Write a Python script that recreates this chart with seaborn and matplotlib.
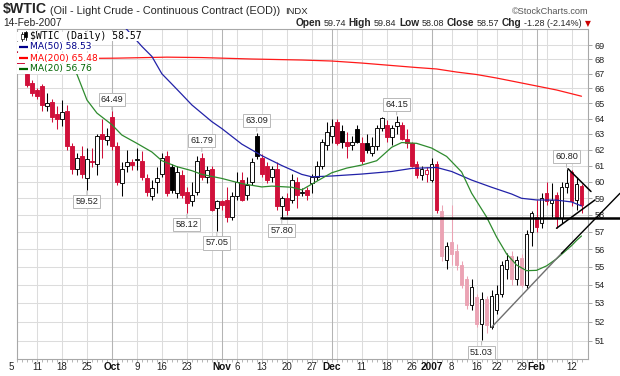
import numpy as np
import pandas as pd
import matplotlib
matplotlib.use("Agg")
import matplotlib.pyplot as plt
import matplotlib.transforms as mtransforms
from matplotlib.lines import Line2D
from matplotlib.patches import Rectangle
from matplotlib.ticker import FixedLocator, NullLocator, NullFormatter, FuncFormatter
import seaborn as sns

# ---------------- data ----------------
holidays = ["2006-12-25", "2007-01-01", "2007-01-15"]
dates = pd.bdate_range("2006-09-05", "2007-02-14")
dates = dates[~dates.isin(pd.to_datetime(holidays))]

opens = [68.2, 67.8, 67.0, 66.4, 65.9, 66.2, 64.85, 65.1, 64.3, 64.0,
         64.5, 62.2, 60.8, 61.6, 60.2, 61.3, 61.1, 63.0, 62.6, 64.1,
         62.2, 59.9, 61.0, 61.25, 61.35, 61.3, 60.2, 59.1, 60.0, 60.5,
         61.6, 60.9, 59.3, 60.4, 59.4, 58.8, 59.4, 61.5, 60.3, 60.8,
         58.4, 58.8, 58.9, 57.9, 59.1, 60.1, 59.2, 60.0, 62.9, 61.5,
         61.0, 60.3, 60.8, 58.5, 59.0, 58.9, 60.0, 59.3, 59.5, 59.9,
         60.3, 61.0, 62.3, 62.9, 63.8, 63.2, 62.5, 62.3, 63.3, 62.4,
         62.4, 61.8, 62.2, 63.4, 63.6, 62.8, 63.5, 63.6, 62.7, 62.4,
         61.1, 60.4, 60.5, 60.1, 61.1, 58.2, 55.4, 56.4, 55.9, 55.1,
         54.3, 52.9, 53.3, 51.9, 53.2, 51.7, 52.6, 53.5, 54.9, 55.6,
         54.3, 55.5, 54.0, 57.0, 57.9, 57.5, 59.3, 58.7, 59.2, 57.8,
         59.7, 60.6, 58.9, 59.74]
highs = [68.6, 68.0, 67.3, 66.6, 66.0, 66.3, 65.7, 65.3, 64.8, 65.2,
         64.9, 62.4, 61.8, 62.2, 62.1, 62.1, 63.0, 64.0, 63.4, 64.49,
         62.5, 61.2, 62.0, 61.4, 62.1, 61.9, 60.5, 60.1, 60.9, 61.8,
         61.9, 61.1, 61.0, 60.7, 59.7, 60.0, 61.6, 61.79, 61.0, 61.0,
         58.9, 58.9, 59.7, 59.4, 60.6, 60.6, 60.3, 61.5, 63.09, 61.7,
         61.2, 61.0, 61.2, 59.1, 59.3, 60.5, 60.3, 59.6, 59.7, 60.5,
         61.3, 62.7, 63.8, 64.0, 64.0, 63.6, 63.1, 62.9, 63.6, 62.8,
         63.0, 62.8, 63.6, 64.1, 63.9, 63.6, 64.15, 63.8, 63.3, 62.5,
         61.3, 61.0, 60.9, 61.5, 61.3, 58.6, 56.4, 58.6, 56.3, 55.3,
         54.5, 54.3, 53.5, 53.6, 53.4, 53.7, 54.0, 55.3, 55.8, 55.9,
         55.6, 55.7, 57.1, 58.2, 58.9, 59.3, 60.0, 59.9, 59.4, 60.0,
         60.80, 60.7, 60.3, 59.84]
lows = [67.5, 67.1, 66.1, 65.5, 65.3, 64.5, 64.5, 63.8, 63.3, 63.5,
        62.0, 60.5, 60.4, 60.2, 59.52, 60.9, 60.4, 61.5, 62.3, 62.0,
        59.8, 59.1, 60.6, 60.7, 60.7, 60.1, 59.1, 58.9, 59.3, 60.3,
        59.1, 59.3, 59.0, 59.0, 58.12, 58.5, 59.2, 60.1, 59.9, 58.2,
        57.05, 58.3, 57.6, 57.7, 58.9, 58.8, 58.9, 59.8, 61.4, 60.3,
        59.9, 60.0, 58.3, 57.80, 58.0, 58.7, 58.4, 59.1, 58.9, 59.3,
        60.1, 60.8, 62.0, 62.4, 62.3, 62.1, 61.5, 62.0, 62.4, 61.1,
        61.8, 61.6, 62.0, 63.2, 62.5, 62.3, 63.0, 62.6, 62.1, 60.9,
        60.2, 60.1, 60.0, 60.0, 58.1, 55.3, 54.9, 55.1, 54.8, 53.8,
        52.7, 52.6, 51.7, 51.03, 51.4, 51.6, 52.4, 53.3, 54.3, 54.0,
        54.0, 53.9, 53.8, 56.2, 57.0, 57.2, 58.6, 57.9, 57.2, 57.5,
        59.3, 58.5, 58.3, 58.08]
closes = [67.7, 67.3, 66.25, 65.7, 65.5, 64.9, 65.05, 64.1, 64.0, 64.4,
          62.2, 60.8, 61.5, 60.5, 61.4, 61.2, 62.9, 62.7, 62.9, 62.2,
          60.0, 60.8, 61.25, 61.05, 61.4, 60.3, 59.4, 59.6, 60.2, 61.5,
          59.3, 59.5, 60.6, 59.2, 58.7, 59.2, 61.3, 60.3, 60.7, 58.3,
          58.8, 58.6, 57.9, 59.1, 60.0, 58.9, 59.8, 61.2, 61.6, 60.5,
          60.1, 60.8, 58.5, 59.0, 58.3, 60.1, 59.2, 59.4, 59.2, 60.3,
          61.0, 62.5, 63.1, 63.5, 62.4, 62.5, 62.2, 62.5, 62.5, 61.3,
          62.0, 62.2, 63.4, 64.05, 62.8, 63.4, 63.8, 62.65, 62.4, 61.0,
          60.4, 60.8, 60.7, 61.1, 58.3, 55.6, 56.2, 55.7, 55.1, 54.0,
          52.9, 53.9, 51.9, 53.2, 51.8, 53.4, 53.5, 55.1, 55.4, 54.3,
          55.4, 54.0, 56.9, 58.1, 57.3, 59.0, 58.8, 58.9, 57.8, 59.7,
          59.9, 58.8, 59.85, 58.57]

ma20_idx = [11, 12, 14, 16, 19, 21, 24, 27, 29, 32, 35, 37, 41, 45, 49, 51, 55, 57, 59, 61,
            63, 66, 69, 72, 75, 77, 80, 83, 86, 89, 91, 94, 96, 98, 100, 102, 104, 106, 108, 110,
            111, 112, 113]
ma20_val = [67.4, 66.96, 65.23, 64.36, 63.6, 62.93, 62.40, 61.85, 61.3, 60.93,
            60.68, 60.45, 60.2, 59.88, 59.68, 59.73, 59.66, 59.5, 59.85, 60.2,
            60.55, 60.84, 61.03, 61.3, 62.15, 62.45, 62.4, 62.1, 61.57, 60.6,
            59.3, 57.87, 56.7, 55.73, 55.1, 54.78, 54.8, 55.05, 55.45, 55.95,
            56.2, 56.5, 56.76]
ma50_idx = [18, 20, 22, 25, 27, 29, 31, 33, 35, 39, 41, 45, 49, 53, 57, 59, 63, 69, 75, 79,
            84, 87, 91, 95, 99, 101, 104, 108, 111, 113]
ma50_val = [71.4, 70.8, 70.1, 68.9, 68.2, 67.0, 66.3, 65.6, 64.9, 63.8,
            63.35, 62.35, 61.62, 61.0, 60.45, 60.3, 60.35, 60.47, 60.63, 60.82,
            60.88, 60.63, 60.1, 59.66, 59.25, 58.99, 58.89, 58.88, 58.77, 58.53]
ma200_idx = [0, 10, 20, 30, 37, 47, 57, 63, 69, 75, 80, 84, 88, 92, 96, 100, 104, 108, 113]
ma200_val = [68.0, 68.05, 68.08, 68.15, 68.12, 68.02, 67.95, 67.88, 67.74, 67.57,
             67.43, 67.33, 67.12, 66.95, 66.71, 66.44, 66.17, 65.9, 65.48]

peak_idx = [19, 37, 48, 76, 110]
peak_val = [64.49, 61.79, 63.09, 64.15, 60.80]
trough_idx = [14, 34, 40, 53, 93]
trough_val = [59.52, 58.12, 57.05, 57.80, 51.03]

support_idx = [52.7, 120.7]
support_val = [57.80, 57.80]
trend_gray_idx = [95.0, 109.0]
trend_gray_val = [51.7, 55.76]
trend_black_idx = [109.0, 120.7]
trend_black_val = [55.76, 59.29]
pennant_top_idx = [110.3, 114.9]
pennant_top_val = [60.80, 59.40]
pennant_bot_idx = [108.0, 115.7]
pennant_bot_val = [57.21, 58.89]

y_ticks = list(range(51, 70))
y_range = (50.05, 70.14)
x_range = (0.0, 114.3)

# ---------------- styling ----------------
sns.set_theme(style="white")
plt.rcParams["font.family"] = ["Liberation Sans", "DejaVu Sans"]
RED = "#d0103a"
PINK = "#eba3b4"
INK = "#000000"
GRID = "#dcdcdc"
MGRID = "#b4b4b4"

W, H, DPI = 620, 376, 100
fig = plt.figure(figsize=(W / DPI, H / DPI), dpi=DPI, facecolor="white")
AX_L, AX_R, AX_T, AX_B = 17, 588, 29, 359
ax = fig.add_axes([AX_L / W, 1 - AX_B / H, (AX_R - AX_L) / W, (AX_B - AX_T) / H])
ax.set_facecolor("white")
ax.set_yscale("log")


def fx(x):
    return x / W


def fy(y):
    return 1 - y / H


df = pd.DataFrame({"date": dates, "open": opens, "high": highs,
                   "low": lows, "close": closes})
df["i"] = np.arange(len(df))
n = len(df)

# ---------------- grid ----------------
dser = pd.Series(dates)
week_key = (dser - pd.to_timedelta(dser.dt.weekday, unit="D")).dt.normalize()
week_first = np.flatnonzero(week_key.ne(week_key.shift()).values)
month_first = np.flatnonzero(dser.dt.month.ne(dser.dt.month.shift()).values)[1:]

for yv in y_ticks:
    ax.axhline(yv, color=GRID, lw=0.75, zorder=0.5)
for j in week_first:
    ax.axvline(j, color=GRID, lw=0.75, zorder=0.5)
for j in month_first:
    ax.axvline(j, color=MGRID, lw=0.75, zorder=0.6)

# ---------------- candles ----------------
prev_close = df["close"].shift(1).fillna(df["open"])
rising = (df["close"] >= prev_close).values
hollow = (df["close"] >= df["open"]).values
jan = ((df["date"] >= "2007-01-04") & (df["date"] <= "2007-01-29")).values
pink = (~hollow) & (~rising) & jan
edge = np.where(rising, INK, RED)
edge = np.where(pink, PINK, edge)
face = np.where(hollow, "white", edge)

ax.vlines(df["i"], df["low"], df["high"], colors=edge, linewidth=0.75, zorder=3)
ax.bar(df["i"], (df["close"] - df["open"]).abs(),
       bottom=np.minimum(df["open"], df["close"]), width=0.74,
       color=face, edgecolor=edge, linewidth=0.65, zorder=4)

# ---------------- moving averages ----------------
sns.lineplot(x=ma200_idx, y=ma200_val, ax=ax, color="#ff1a1a", lw=0.9,
             estimator=None, legend=False, zorder=5)
sns.lineplot(x=ma50_idx, y=ma50_val, ax=ax, color="#2222a8", lw=0.9,
             estimator=None, legend=False, zorder=5)
sns.lineplot(x=ma20_idx, y=ma20_val, ax=ax, color="#2e8b2e", lw=0.9,
             estimator=None, legend=False, zorder=5)

# ---------------- drawn lines ----------------
ax.plot(support_idx, support_val, color="black", lw=1.8, clip_on=False, zorder=6,
        solid_capstyle="butt")
ax.plot(trend_gray_idx, trend_gray_val, color="#6e6e6e", lw=1.0, clip_on=False, zorder=6)
ax.plot(trend_black_idx, trend_black_val, color="black", lw=1.0, clip_on=False, zorder=6)
ax.plot(pennant_top_idx, pennant_top_val, color="black", lw=1.1, clip_on=False, zorder=6)
ax.plot(pennant_bot_idx, pennant_bot_val, color="black", lw=1.1, clip_on=False, zorder=6)

# ---------------- price labels ----------------
box = dict(boxstyle="square,pad=0.22", fc="white", ec="#b8b8b8", lw=0.7)
arrow = dict(arrowstyle="-", color="#b8b8b8", lw=0.7, shrinkA=0, shrinkB=1)
for j, v in zip(peak_idx, peak_val):
    ax.annotate(f"{v:.2f}", xy=(j, v), xytext=(0, 12), textcoords="offset pixels",
                ha="center", va="center", fontsize=6.6, color="#222222",
                bbox=box, arrowprops=arrow, zorder=8, annotation_clip=False)
for j, v in zip(trough_idx, trough_val):
    ax.annotate(f"{v:.2f}", xy=(j, v), xytext=(0, -12), textcoords="offset pixels",
                ha="center", va="center", fontsize=6.6, color="#222222",
                bbox=box, arrowprops=arrow, zorder=8, annotation_clip=False)

# ---------------- axes ----------------
ax.set_xlim(*x_range)
ax.set_ylim(*y_range)
ax.yaxis.set_major_locator(FixedLocator(y_ticks))
ax.yaxis.set_minor_locator(NullLocator())
ax.yaxis.set_minor_formatter(NullFormatter())
ax.yaxis.set_major_formatter(FuncFormatter(lambda v, p: f"{v:.0f}"))
ax.yaxis.tick_right()
ax.tick_params(axis="y", which="major", right=True, left=False, length=3, width=0.6,
               color="#999999", pad=1.5, labelsize=6.6, labelcolor="#222222")
ax.set_xticks([])
ax.set_xticks(np.arange(n), minor=True)
ax.xaxis.set_minor_formatter(NullFormatter())
ax.tick_params(axis="x", which="minor", bottom=True, length=2, width=0.6, color="#aaaaaa")
for s in ax.spines.values():
    s.set_color("#a8a8a8")
    s.set_linewidth(0.8)

xform = ax.get_xaxis_transform()
first_form = mtransforms.offset_copy(xform, fig=fig, x=-6, y=0, units="dots")
for j in week_first:
    if j in month_first or np.any(np.abs(month_first - j) <= 2):
        continue
    ax.text(j, -0.008, str(dates[j].day), transform=first_form if j == 0 else xform,
            ha="center", va="top", fontsize=7, color="#222222", clip_on=False)
for j in month_first:
    lab = str(dates[j].year) if dates[j].month == 1 else dates[j].strftime("%b")
    ax.text(j, -0.008, lab, transform=xform, ha="center", va="top", fontsize=7.3,
            fontweight="bold", color="#111111", clip_on=False)

# ---------------- legend block ----------------
rows = [
    (f"MA(50) {ma50_val[-1]:.2f}", "#00008b", 46.7),
    (f"MA(200) {ma200_val[-1]:.2f}", "#ff0000", 58.0),
    (f"MA(20) {ma20_val[-1]:.2f}", "#006400", 69.0),
]
renderer = fig.canvas.get_renderer()
t0 = fig.text(fx(30), fy(36), rf"\$WTIC (Daily) {closes[-1]:.2f}", family="DejaVu Sans Mono",
              fontsize=7.0, color="black", va="center", ha="left", zorder=4)
w0 = t0.get_window_extent(renderer).width
fig.add_artist(Rectangle((fx(17.2), fy(40.5)), (30 + w0 + 1 - 17.2) / W, 9 / H,
                         transform=fig.transFigure, fc="white", ec="none", zorder=3))
for xx, top, bot, b0, b1, filled in [(22, 32, 40.5, 34, 38.5, False), (26, 31, 39.5, 32.5, 37, True)]:
    fig.add_artist(Line2D([fx(xx), fx(xx)], [fy(top), fy(bot)], color="black", lw=0.6,
                          transform=fig.transFigure, zorder=4))
    fig.add_artist(Rectangle((fx(xx - 1.5), fy(b1)), 3 / W, (b1 - b0) / H,
                             transform=fig.transFigure, fc="black" if filled else "white",
                             ec="black", lw=0.5, zorder=4.5))
for label, tcol, yy in rows:
    t = fig.text(fx(30), fy(yy), label, family="DejaVu Sans", fontsize=6.6, color=tcol,
                 va="center", ha="left", zorder=4)
    w = t.get_window_extent(renderer).width
    fig.add_artist(Rectangle((fx(17.2), fy(yy + 4.6)), (30 + w + 1 - 17.2) / W, 9.2 / H,
                             transform=fig.transFigure, fc="white", ec="none", zorder=3))
    fig.add_artist(Line2D([fx(19.5), fx(28)], [fy(yy), fy(yy)], color=tcol, lw=1.6,
                          transform=fig.transFigure, zorder=4, solid_capstyle="butt"))

# ---------------- header ----------------
t = fig.text(fx(3), fy(13.5), r"\$WTIC", fontsize=10.2, fontweight="bold", va="baseline")
x_next = 3 + t.get_window_extent(renderer).width + 3
t = fig.text(fx(x_next), fy(13.5), "(Oil - Light Crude - Continuous Contract (EOD))",
             fontsize=7.8, va="baseline")
x_next += t.get_window_extent(renderer).width + 5
fig.text(fx(x_next), fy(13.5), "INDX", fontsize=6.8, va="baseline", color="#222222")
fig.text(fx(588), fy(13.5), "\u00a9StockCharts.com", fontsize=6.6, va="baseline",
         ha="right", color="#555555")
fig.text(fx(3), fy(26.5), dates[-1].strftime("%d-%b-%Y"), fontsize=7.4, va="baseline")

chg = closes[-1] - closes[-2]
pct = chg / closes[-2] * 100
pieces = [("Open", True), (f"{opens[-1]:.2f}", False), ("High", True), (f"{highs[-1]:.2f}", False),
          ("Low", True), (f"{lows[-1]:.2f}", False), ("Close", True), (f"{closes[-1]:.2f}", False),
          ("Chg", True), (f"{chg:.2f} ({pct:.2f}%)", False)]
objs, widths = [], []
for s, b in pieces:
    tt = fig.text(0, fy(26.5), s, fontsize=7.3 if b else 6.5,
                  fontweight="bold" if b else "normal", va="baseline", ha="left")
    objs.append(tt)
    widths.append(tt.get_window_extent(renderer).width)
gap = 2.6
x_cur = 582 - (sum(widths) + gap * (len(widths) - 1))
for tt, w in zip(objs, widths):
    tt.set_x(fx(x_cur))
    x_cur += w + gap
fig.text(fx(584.5), fy(26.0), "\u25bc", family="DejaVu Sans", fontsize=5.5, color="#cc0000",
         va="baseline", ha="left")

fig.savefig("out.png", dpi=DPI, facecolor="white")
